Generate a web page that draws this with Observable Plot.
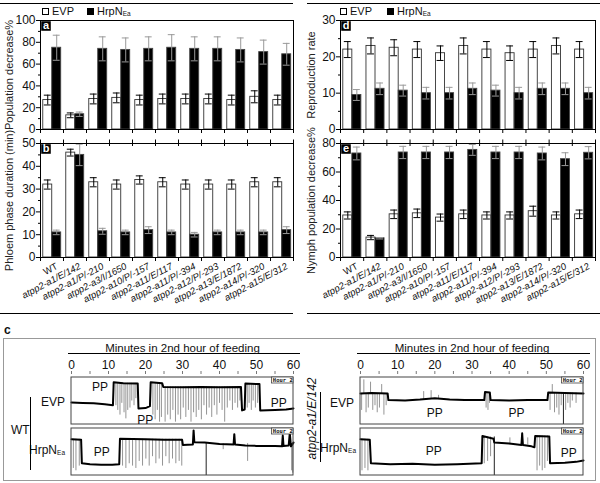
<!DOCTYPE html>
<html><head><meta charset="utf-8">
<script src="https://cdn.jsdelivr.net/npm/d3@7"></script>
<script src="https://cdn.jsdelivr.net/npm/@observablehq/plot@0.6"></script>
<style>
body{margin:0;background:#fff;font-family:"Liberation Sans",Arial,sans-serif;}
#fig{position:relative;width:600px;height:483px;overflow:hidden;background:#fff;}
.abs{position:absolute;}
.hl{position:absolute;height:0;border-top:1px solid #000;}
.vl{position:absolute;width:0;border-left:1px solid #000;}
.lg{position:absolute;font-size:11px;line-height:12px;white-space:nowrap;color:#111;}
.sq{display:inline-block;width:5px;height:5px;border:1px solid #000;margin-right:3px;vertical-align:0px;}
.t12{position:absolute;font-size:12px;line-height:13px;white-space:nowrap;color:#111;}
sub{font-size:6.5px;vertical-align:-1px;line-height:0;}
</style></head><body><div id="fig"></div>
<script>
// ---------- data ----------
const groups = ["WT","atpp2-a1/E/142","atpp2-a1/P/-210","atpp2-a3/I/1650","atpp2-a10/P/-157","atpp2-a11/E/117","atpp2-a11/P/-394","atpp2-a12/P/-293","atpp2-a13/E/1872","atpp2-a14/P/-320","atpp2-a15/E/312"];
const series = ["EVP", "HrpN"];

// a: Population decrease%
const evpA = [27,13,28,29,27,28,28,28,27,30,27];
const evpAErr = [4.5,2.2,4.5,4.5,4.5,4.5,4.5,4.5,4.5,5.5,4.5];
const hrpA = [75,14,74,73,74,75,74,74,73,71,69];
const hrpAErr = [11.5,2,11,11,11,12,11,11,11,11,10];
// b: Phloem phase duration (min)
const evpB = [32,46,33,32,34,33,32,32,32,33,33];
const evpBErr = [2,1.5,2,2,1.8,2,2,2,2,2,2];
const hrpB = [11,45,11.5,11,12,11,10,11,11,11,12];
const hrpBErr = [1,4.7,1.3,1,1.5,1,1,1,1,1,1.5];
// d: Reproduction rate
const evpD = [22,23,22.5,22,21,23,22,21,22,23,22];
const evpDErr = [2.2,2.2,2.2,2.2,2,2.2,2.2,2,2.2,2.2,2.2];
const hrpD = [9.5,11.2,10.7,10,10,11.2,10.7,10,11.2,11.2,10];
const hrpDErr = [1.5,1.6,1.5,1.6,1.6,1.6,1.5,1.6,1.6,1.6,1.6];
// e: Nymph population decrease%
const evpE = [29.5,14,30.3,31,28,30.3,29.5,29.5,32.5,29.5,30.3];
const evpEErr = [2.5,1.5,3,3,2.5,3,2.5,2.5,3.5,2.5,3];
const hrpE = [73,13.5,73.7,73.7,73.7,75.5,73.7,73.7,73,69,73.5];
const hrpEErr = [4.5,0.5,4.3,4.3,4.3,3.8,4.3,4.3,4.5,4.5,4.3];

const ticksA = [0,20,40,60,80,100], minorA = [10,30,50,70,90];
const ticksB = [0,10,20,30,40,50], minorB = [5,15,25,35,45];
const ticksD = [0,10,20,30], minorD = [5,15,25];
const ticksE = [0,20,40,60,80], minorE = [10,30,50,70];

// c: EPG traces (minutes, relative level in box 0..1)
const minuteTicks = [0,10,20,30,40,50,60];
const minuteMinor = [0,5,10,15,20,25,30,35,40,45,50,55,60];

const wtEvpBase = [[0,.47],[3,.46],[6,.45],[9,.43],[11.2,.41],[11.4,.9],[14,.88],[17.9,.87],[18.1,.34],[20,.35],[21.2,.39],[21.4,.9],[24.5,.88],[24.8,.8],[30,.79],[35,.8],[40,.79],[45.8,.8],[46.1,.3],[46.8,.32],[47,.87],[50.8,.86],[51,.3],[55,.31],[58,.32],[60,.34]];
const wtEvpSpikes = [
  {level:.88, s:[[12.0,.4],[12.5,.3],[13.1,.2],[13.6,.45],[14.2,.25],[14.7,.12],[15.2,.3],[15.8,.35],[16.3,.5],[16.9,.4],[17.4,.55]]},
  {level:.88, s:[[22.0,.2],[22.6,.1],[23.2,.3],[23.8,.05],[24.3,.15]]},
  {level:.8, s:[[25.3,.05],[26.0,.2],[26.7,.1],[27.4,.3],[28.1,.05],[28.8,.2],[29.5,.1],[30.2,.35],[30.9,.15],[31.6,.3],[32.3,.05],[33.0,.25],[33.7,.15],[34.4,.3],[35.1,.1],[35.8,.4],[36.5,.2],[37.2,.35],[37.9,.15],[38.6,.4],[39.3,.2],[40.0,.45],[40.7,.3],[41.4,.05],[42.1,.35],[42.8,.5],[43.5,.3],[44.2,.45],[44.9,.35],[45.5,.5]]},
  {level:.86, s:[[47.5,.35],[48.0,.45],[48.6,.3],[49.1,.5],[49.7,.35],[50.3,.45]]}
];
const wtHrpBase = [[0,.77],[2.6,.76],[2.8,.26],[5,.24],[8,.23],[11,.23],[12.9,.24],[13.1,.78],[20,.77],[25,.76],[29.9,.76],[30.1,.65],[32.8,.66],[33,.96],[33.2,.71],[36,.7],[40,.67],[43.8,.66],[44,.88],[44.2,.66],[47,.64],[50,.63],[55,.63],[56.9,.62],[57.1,.85],[57.3,.63],[58.7,.64],[59,.9],[59.3,.62],[60,.7]];
const wtHrpSpikes = [
  {level:.77, s:[[0.5,.15],[1.2,.1],[2.1,.2]]},
  {level:.77, s:[[13.8,.2],[14.7,.15],[15.6,.25],[16.5,.2],[17.4,.15],[18.3,.3],[19.2,.2],[20.1,.35],[21.0,.2],[21.9,.4],[22.8,.25],[23.7,.35],[24.6,.2],[25.5,.4],[26.4,.25],[27.3,.35],[28.2,.25],[29.1,.3],[29.8,.2]]},
  {level:.68, s:[[36.4,0],[41,.55],[47.6,.3],[59.5,.1],[59.8,.05]]}
];
const muEvpBase = [[0,.66],[3,.67],[7.3,.66],[7.5,.52],[12,.51],[16,.53],[20,.56],[24,.53],[28,.52],[33.3,.52],[33.5,.69],[34.8,.68],[35,.52],[40,.51],[45,.52],[50.3,.52],[50.5,.68],[55,.67],[60,.66]];
const muEvpSpikes = [
  {level:.66, s:[[0.3,.3],[0.9,.95],[1.5,.25],[2.1,.35],[2.7,.9],[3.3,.3],[3.9,.4],[4.5,.25],[5.1,.35],[5.7,.85],[6.3,.2],[6.9,.4]]},
  {level:.68, s:[[33.8,.35],[34.3,.3],[34.7,.45]]},
  {level:.53, s:[[17,.7],[19,.72],[21,.62]]},
  {level:.67, s:[[51.0,.3],[51.6,.85],[52.2,.25],[52.8,.35],[53.4,.2],[54.0,.4],[54.6,0],[55.2,.3],[55.8,.45],[56.4,.35],[57.0,.5],[58,.45]]}
];
const muHrpBase = [[0,.77],[2.5,.76],[2.8,.26],[8,.24],[14,.25],[20,.23],[26,.24],[32.6,.26],[32.8,.84],[35.8,.78],[36,.7],[40,.68],[43.3,.65],[43.5,.9],[43.7,.65],[46,.62],[46.8,.6],[47,.84],[50.8,.83],[51,.26],[55,.27],[58,.29],[60,.32]];
const muHrpSpikes = [
  {level:.77, s:[[0.4,.1],[1.2,.15],[2.0,.1]]},
  {level:.82, s:[[33.3,.25],[34.2,.3],[35.0,.4],[36.0,0]]},
  {level:.84, s:[[47.5,.1],[48.2,.2],[48.9,.1],[49.6,.15],[50.3,.3]]},
  {level:.65, s:[[40.2,.8],[45,.8]]}
];
const wtPP = [{t:7.7,v:.79,box:"top"},{t:19.9,v:.09,box:"top"},{t:56,v:.45,box:"top"},{t:8.2,v:.5,box:"bot"}];
const muPP = [{t:20,v:.24,box:"top"},{t:42,v:.24,box:"top"},{t:19.7,v:.52,box:"bot"},{t:56,v:.48,box:"bot"}];

// ---------- helpers ----------
const FONT = "'Liberation Sans', Arial, Helvetica, sans-serif";
const fig = document.getElementById("fig");
function place(node, left, top) {
  const d = document.createElement("div");
  d.className = "abs"; d.style.left = left + "px"; d.style.top = top + "px";
  d.appendChild(node); fig.appendChild(d);
}
function html(cls, s, css) {
  const d = document.createElement("div");
  d.className = cls; d.style.cssText += css; d.innerHTML = s; fig.appendChild(d);
}

function barPanel(o) {
  const n = groups.length;
  const rows = groups.map((g, i) => ({i, g, ev: o.evp[i], ee: o.evpErr[i], hv: o.hrp[i], he: o.hrpErr[i]}));
  const plotH = o.height - o.mt - o.mb;
  const uPx = o.yMax / plotH;
  const xPx = n / (300 - o.ml - o.mr);
  const bounds = d3.range(n + 1);
  const ce = d => d.i + 0.315, ch = d => d.i + 0.705, cap = 0.15;
  const marks = [
    Plot.rect(rows, {x1: d => d.i + 0.12, x2: d => d.i + 0.51, y1: 0, y2: "ev", fill: "#fff", stroke: "#333", strokeWidth: 0.9}),
    Plot.rect(rows, {x1: d => d.i + 0.51, x2: d => d.i + 0.9, y1: 0, y2: "hv", fill: "#000", stroke: "#444", strokeWidth: 0.9}),
    Plot.ruleX(rows, {x: ce, y1: d => d.ev - d.ee, y2: d => d.ev + d.ee, stroke: "#000", strokeWidth: 1}),
    Plot.ruleY(rows, {y: d => d.ev + d.ee, x1: d => ce(d) - cap, x2: d => ce(d) + cap, stroke: "#000", strokeWidth: 1}),
    Plot.ruleY(rows, {y: d => d.ev - d.ee, x1: d => ce(d) - cap, x2: d => ce(d) + cap, stroke: "#000", strokeWidth: 1}),
    Plot.ruleX(rows, {x: ch, y1: d => d.hv - d.he, y2: d => d.hv + d.he, stroke: "#999", strokeWidth: 1}),
    Plot.ruleY(rows, {y: d => d.hv + d.he, x1: d => ch(d) - cap, x2: d => ch(d) + cap, stroke: "#999", strokeWidth: 1}),
    Plot.ruleY(rows, {y: d => d.hv - d.he, x1: d => ch(d) - cap, x2: d => ch(d) + cap, stroke: "#999", strokeWidth: 1}),
    Plot.frame({stroke: "#000", strokeWidth: 1}),
    // y axis ticks & labels
    Plot.ruleY(o.ticks, {y: d => d, x1: -4 * xPx, x2: 0, stroke: "#000"}),
    Plot.ruleY(o.minor, {y: d => d, x1: -2 * xPx, x2: 0, stroke: "#000"}),
    Plot.text(o.ticks, {x: 0, y: d => d, text: d => String(d), textAnchor: "end", dx: -5, fontSize: 12, fill: "#111"}),
    // group boundary ticks
    Plot.ruleX(bounds, {x: d => d, y1: -4 * uPx, y2: 0, stroke: "#000"}),
    Plot.text([o.ylabel], {text: d => d, frameAnchor: "left", rotate: -90, textAnchor: "middle", lineAnchor: "middle", dx: o.ylDx, fontSize: 11, fill: "#222"}),
    Plot.dot([0], {frameAnchor: "top-left", dx: 5.5, dy: 5.5, symbol: "square", r: 5.4, fill: "#000"}),
    Plot.text([o.letter], {text: d => d, frameAnchor: "top-left", textAnchor: "middle", lineAnchor: "middle", dx: 5.5, dy: 5, fill: "#fff", fontWeight: "bold", fontSize: 11})
  ];
  if (o.topTicks) marks.push(Plot.ruleX(bounds, {x: d => d, y1: o.yMax - 3 * uPx, y2: o.yMax + 3.5 * uPx, stroke: "#000"}));
  if (o.labels) {
    marks.push(Plot.text(rows.filter(d => d.i === 0), {x: d => d.i + 0.5, y: 0, text: "g", rotate: -28, textAnchor: "end", dx: 5, dy: 8, fontSize: 9.5, fill: "#111"}));
    marks.push(Plot.text(rows.filter(d => d.i > 0), {x: d => d.i + 0.5, y: 0, text: "g", rotate: -28, textAnchor: "end", dx: 5, dy: 8, fontSize: 9.5, fontStyle: "italic", fill: "#111"}));
  }
  const svg = Plot.plot({
    width: 300, height: o.height,
    marginLeft: o.ml, marginRight: o.mr, marginTop: o.mt, marginBottom: o.mb,
    style: {fontFamily: FONT, fontSize: "12px", background: "transparent", overflow: "visible", color: "#111"},
    x: {domain: [0, n], label: null, axis: null},
    y: {domain: [0, o.yMax], label: null, axis: null},
    marks
  });
  place(svg, o.left, o.top);
}

function tracePlot(o) {
  const OFF = 1.085, TOP = 2.085;
  const plotH = o.height - 47 - 8;
  const uPx = TOP / plotH;
  const mPx = 60 / (300 - o.ml - o.mr);
  const lines = [
    ...o.topBase.map(([t, v]) => ({t, v: v + OFF, k: "top"})),
    ...o.botBase.map(([t, v]) => ({t, v, k: "bot"}))
  ];
  const spikes = [];
  for (const [sp, off] of [[o.topSpikes, OFF], [o.botSpikes, 0]])
    for (const g of sp) for (const [t, to] of g.s) spikes.push({t, y1: g.level + off, y2: to + off, deep: to < 0.03});
  const boxes = [{y1: 0, y2: 1}, {y1: OFF, y2: TOP}];
  const pp = o.pp.map(d => ({...d, y: d.v + (d.box === "top" ? OFF : 0)}));
  const svg = Plot.plot({
    width: 300, height: o.height,
    marginLeft: o.ml, marginRight: o.mr, marginTop: 47, marginBottom: 8,
    style: {fontFamily: FONT, fontSize: "12px", background: "transparent", overflow: "visible", color: "#111"},
    x: {domain: [0, 60], label: null},
    y: {domain: [0, TOP], axis: null, label: null},
    marks: [
      Plot.ruleX(spikes.filter(d => !d.deep), {x: "t", y1: "y1", y2: "y2", stroke: "#888", strokeWidth: 0.9}),
      Plot.ruleX(spikes.filter(d => d.deep), {x: "t", y1: "y1", y2: "y2", stroke: "#222", strokeWidth: 1}),
      Plot.line(lines, {x: "t", y: "v", z: "k", stroke: "#000", strokeWidth: 2, curve: "linear"}),
      Plot.rect(boxes, {x1: 0, x2: 60, y1: "y1", y2: "y2", fill: "none", stroke: "#444", strokeWidth: 1}),
      Plot.rect(boxes, {x1: 54.2, x2: 60, y1: d => d.y2 - 6 * uPx, y2: "y2", fill: "#fff", stroke: "#444", strokeWidth: 0.8}),
      Plot.text(boxes, {x: 57.1, y: d => d.y2 - 3 * uPx, text: () => "Hour 2", fontSize: 5.5, fontWeight: "bold", fontFamily: "DejaVu Sans Mono"}),
      Plot.text(pp, {x: "t", y: "y", text: () => "PP", fontSize: 12, fill: "#111"}),
      Plot.axisX({anchor: "top", ticks: minuteTicks, tickSize: 0, tickPadding: 9, fontSize: 12, label: null}),
      Plot.ruleX(minuteMinor, {x: d => d, y1: TOP + 3 * uPx, y2: TOP + 6 * uPx, stroke: "#777", strokeWidth: 1}),
      Plot.ruleY([TOP + 24 * uPx], {y: d => d, x1: -3 * mPx, x2: 60 + 7 * mPx, stroke: "#000", strokeWidth: 1}),
      Plot.text(["Minutes in 2nd hour of feeding"], {text: d => d, frameAnchor: "top", textAnchor: "middle", lineAnchor: "middle", dy: -29, fontSize: 11.5, fill: "#111"})
    ]
  });
  place(svg, o.left, o.top);
}

// ---------- panels a, b, d, e ----------
barPanel({evp: evpA, evpErr: evpAErr, hrp: hrpA, hrpErr: hrpAErr, yMax: 100, ticks: ticksA, minor: minorA,
  ylabel: "Population decrease%", letter: "a", left: 0, top: 0, height: 135, mt: 20, mb: 6, ml: 40, mr: 7, ylDx: -31});
barPanel({evp: evpB, evpErr: evpBErr, hrp: hrpB, hrpErr: hrpBErr, yMax: 50, ticks: ticksB, minor: minorB,
  ylabel: "Phloem phase duration (min)", letter: "b", left: 0, top: 135, height: 178, mt: 8, mb: 56, ml: 40, mr: 7, ylDx: -31, topTicks: true, labels: true});
barPanel({evp: evpD, evpErr: evpDErr, hrp: hrpD, hrpErr: hrpDErr, yMax: 30, ticks: ticksD, minor: minorD,
  ylabel: "Reproduction rate", letter: "d", left: 300, top: 0, height: 135, mt: 20, mb: 6, ml: 40, mr: 5, ylDx: -29});
barPanel({evp: evpE, evpErr: evpEErr, hrp: hrpE, hrpErr: hrpEErr, yMax: 80, ticks: ticksE, minor: minorE,
  ylabel: "Nymph population decrease%", letter: "e", left: 300, top: 135, height: 178, mt: 8, mb: 56, ml: 40, mr: 5, ylDx: -29, topTicks: true, labels: true});

// legends
html("lg", `<span class="sq"></span>${series[0]}`, "left:42px;top:5px;");
html("lg", `<span class="sq" style="background:#000"></span>${series[1]}<sub>Ea</sub>`, "left:87px;top:5px;");
html("lg", `<span class="sq"></span>${series[0]}`, "left:340px;top:5px;");
html("lg", `<span class="sq" style="background:#000"></span>${series[1]}<sub>Ea</sub>`, "left:387px;top:5px;");

// separator lines
html("hl", "", "left:0;top:3px;width:293px;");
html("hl", "", "left:307px;top:3px;width:293px;");
html("hl", "", "left:0;top:313px;width:293px;");
html("hl", "", "left:307px;top:313px;width:293px;");

// ---------- panel c ----------
html("abs", "", "left:3px;top:338px;width:593px;height:143px;border:1px solid #999;box-sizing:border-box;");
html("t12", "c", "left:4px;top:324px;font-weight:bold;");
tracePlot({left: 0, top: 330, height: 153, ml: 71, mr: 7, topBase: wtEvpBase, topSpikes: wtEvpSpikes, botBase: wtHrpBase, botSpikes: wtHrpSpikes, pp: wtPP});
tracePlot({left: 300, top: 330, height: 153, ml: 60, mr: 17, topBase: muEvpBase, topSpikes: muEvpSpikes, botBase: muHrpBase, botSpikes: muHrpSpikes, pp: muPP});

html("t12", "EVP", "left:25px;top:396px;width:40px;text-align:right;");
html("t12", "HrpN<sub>Ea</sub>", "left:15px;top:444px;width:50px;text-align:right;");
html("t12", "WT", "left:11px;top:424px;");
html("vl", "", "left:30px;top:397px;height:73px;");
html("t12", "EVP", "left:314px;top:397px;width:40px;text-align:right;");
html("t12", "HrpN<sub>Ea</sub>", "left:306px;top:442px;width:50px;text-align:right;");
html("vl", "", "left:320px;top:392px;height:70px;");
html("t12", groups[1], "left:262px;top:412px;width:100px;text-align:center;transform:rotate(-90deg);font-style:italic;");
</script>
</body></html>
